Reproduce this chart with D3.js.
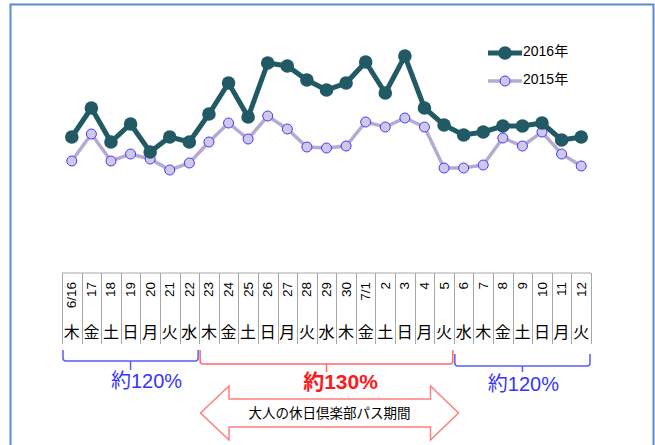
<!DOCTYPE html>
<html>
<head>
<meta charset="utf-8">
<script src="https://cdn.jsdelivr.net/npm/d3@7"></script>
<style>
  body { margin: 0; background: #fff; }
  text { font-family: "Liberation Sans", "Noto Sans CJK JP", sans-serif; }
</style>
</head>
<body>
<svg id="chart" width="655" height="445"></svg>
<script>
var svg = d3.select("#chart");

// category labels (two rows of the table under the chart)
var dates = ["6/16", "17", "18", "19", "20", "21", "22", "23", "24", "25", "26", "27", "28", "29", "30",
  "7/1", "2", "3", "4", "5", "6", "7", "8", "9", "10", "11", "12"];
var weekdays = ["木", "金", "土", "日", "月", "火", "水", "木", "金", "土", "日", "月", "火", "水", "木",
  "金", "土", "日", "月", "火", "水", "木", "金", "土", "日", "月", "火"];

// series values (no axis in the picture, relative units)
var values2016 = [63, 92, 58, 76, 48, 63, 58, 86, 117, 83, 137, 134, 120, 110, 117,
  138, 107, 144, 92, 75, 65, 68, 74, 74, 77, 60, 63];
var values2015 = [39, 66, 39, 46, 41, 30, 37, 58, 77, 61, 84, 71, 53, 52, 54,
  78, 73, 82, 73, 32, 32, 35, 62, 54, 68, 46, 34];

// periods marked under the table: first / last index and label
var periods = [
  { from: 0, to: 6, label: "約120%", kind: "blue" },
  { from: 7, to: 19, label: "約130%", kind: "red" },
  { from: 20, to: 26, label: "約120%", kind: "blue" }
];
var arrowLabel = "大人の休日倶楽部パス期間";

var idx = d3.range(dates.length);

var x = d3.scaleBand()
  .domain(idx)
  .range([62, 591]);

var y = d3.scaleLinear()
  .domain([0, 160])
  .range([200, 40]);

var cx = function (i) { return x(i) + x.bandwidth() / 2; };

// outer frame
svg.append("rect")
  .attr("x", 10.5).attr("y", 4.5)
  .attr("width", 643).attr("height", 460)
  .attr("fill", "none")
  .attr("stroke", "#5b8bcf")
  .attr("stroke-width", 2);

// series
var line = d3.line()
  .x(function (d, i) { return cx(i); })
  .y(function (d) { return y(d); });

svg.append("path")
  .datum(values2015)
  .attr("d", line)
  .attr("fill", "none")
  .attr("stroke", "#b6aad2")
  .attr("stroke-width", 3.5);

svg.selectAll(".p2015")
  .data(values2015)
  .enter().append("circle")
  .attr("class", "p2015")
  .attr("cx", function (d, i) { return cx(i); })
  .attr("cy", function (d) { return y(d); })
  .attr("r", 5)
  .attr("fill", "#d0c8e6")
  .attr("stroke", "#3c3cff")
  .attr("stroke-width", 1);

svg.append("path")
  .datum(values2016)
  .attr("d", line)
  .attr("fill", "none")
  .attr("stroke", "#215a65")
  .attr("stroke-width", 5);

svg.selectAll(".p2016")
  .data(values2016)
  .enter().append("circle")
  .attr("class", "p2016")
  .attr("cx", function (d, i) { return cx(i); })
  .attr("cy", function (d) { return y(d); })
  .attr("r", 6.8)
  .attr("fill", "#215a65");

// legend
var legend = svg.append("g");
legend.append("line")
  .attr("x1", 488).attr("x2", 522).attr("y1", 53).attr("y2", 53)
  .attr("stroke", "#215a65").attr("stroke-width", 5);
legend.append("circle")
  .attr("cx", 505).attr("cy", 53).attr("r", 6.8)
  .attr("fill", "#215a65");
legend.append("text")
  .attr("x", 523).attr("y", 51)
  .attr("dominant-baseline", "central")
  .style("font-size", "14px")
  .text("2016年");

legend.append("line")
  .attr("x1", 488).attr("x2", 522).attr("y1", 81).attr("y2", 81)
  .attr("stroke", "#b6aad2").attr("stroke-width", 3.5);
legend.append("circle")
  .attr("cx", 505).attr("cy", 81).attr("r", 5)
  .attr("fill", "#d0c8e6").attr("stroke", "#3c3cff");
legend.append("text")
  .attr("x", 523).attr("y", 79)
  .attr("dominant-baseline", "central")
  .style("font-size", "14px")
  .text("2015年");

// date / weekday table
var tableTop = 273, tableBottom = 344;
var table = svg.append("g");

table.append("line")
  .attr("x1", x(0)).attr("x2", x(idx.length - 1) + x.bandwidth())
  .attr("y1", tableTop).attr("y2", tableTop)
  .attr("stroke", "#a6a6a6");

table.selectAll(".vline")
  .data(d3.range(idx.length + 1))
  .enter().append("line")
  .attr("class", "vline")
  .attr("x1", function (i) { return Math.round(x.range()[0] + i * x.step()) + 0.5; })
  .attr("x2", function (i) { return Math.round(x.range()[0] + i * x.step()) + 0.5; })
  .attr("y1", tableTop).attr("y2", tableBottom)
  .attr("stroke", "#a6a6a6");

table.selectAll(".date")
  .data(dates)
  .enter().append("text")
  .attr("class", "date")
  .attr("transform", function (d, i) { return "translate(" + cx(i) + ",282)rotate(-90)"; })
  .attr("text-anchor", "end")
  .attr("dominant-baseline", "central")
  .style("font-size", "13.5px")
  .text(function (d) { return d; });

table.selectAll(".wday")
  .data(weekdays)
  .enter().append("text")
  .attr("class", "wday")
  .attr("x", function (d, i) { return cx(i); })
  .attr("y", 331)
  .attr("text-anchor", "middle")
  .attr("dominant-baseline", "central")
  .style("font-family", "'Noto Sans CJK JP', sans-serif")
  .style("font-size", "16px")
  .text(function (d) { return d; });

// period brackets
var bracketStyle = {
  blue: { stroke: "#5a5aff", text: "#3535ff", weight: "normal", size: "20px" },
  red: { stroke: "#ff6a6a", text: "#ff1a1a", weight: "bold", size: "21px" }
};
var bracketY = [
  { top: 350, mid: 361, tip: 370, textY: 388, dx: 16 },
  { top: 350, mid: 364, tip: 372, textY: 389, dx: 14 },
  { top: 354, mid: 366, tip: 372, textY: 391, dx: 1 }
];

periods.forEach(function (p, k) {
  var s = bracketStyle[p.kind];
  var b = bracketY[k];
  var x0 = x(p.from) + 1, x1 = x(p.to) + x.bandwidth() - 1;
  var xm = (x0 + x1) / 2;
  var r = 3;
  var path = "M" + x0 + "," + b.top +
    "L" + x0 + "," + (b.mid - r) +
    "Q" + x0 + "," + b.mid + " " + (x0 + r) + "," + b.mid +
    "L" + (x1 - r) + "," + b.mid +
    "Q" + x1 + "," + b.mid + " " + x1 + "," + (b.mid - r) +
    "L" + x1 + "," + b.top +
    "M" + xm + "," + b.mid + "L" + xm + "," + b.tip;
  svg.append("path")
    .attr("d", path)
    .attr("fill", "none")
    .attr("stroke", s.stroke)
    .attr("stroke-width", 1.5);
  svg.append("text")
    .attr("x", xm + b.dx)
    .attr("y", b.textY)
    .attr("text-anchor", "middle")
    .style("fill", s.text)
    .style("font-size", s.size)
    .style("font-weight", s.weight)
    .text(p.label);
});

// double-headed arrow
var ay = 413, headH = 27, shaftH = 14;
var ax0 = 200.5, ax1 = 458.5, hx0 = 229, hx1 = 430.5;
var arrowPts = [
  [ax0, ay], [hx0, ay - headH], [hx0, ay - shaftH], [hx1, ay - shaftH], [hx1, ay - headH],
  [ax1, ay], [hx1, ay + headH], [hx1, ay + shaftH], [hx0, ay + shaftH], [hx0, ay + headH]
];
svg.append("path")
  .attr("d", d3.line()(arrowPts) + "Z")
  .attr("fill", "#fff")
  .attr("stroke", "#ff7f7f")
  .attr("stroke-width", 1.5);

svg.append("text")
  .attr("x", (ax0 + ax1) / 2)
  .attr("y", ay - 1)
  .attr("text-anchor", "middle")
  .attr("dominant-baseline", "central")
  .style("font-family", "'Noto Sans CJK JP', sans-serif")
  .style("font-size", "13.5px")
  .text(arrowLabel);
</script>
</body>
</html>
